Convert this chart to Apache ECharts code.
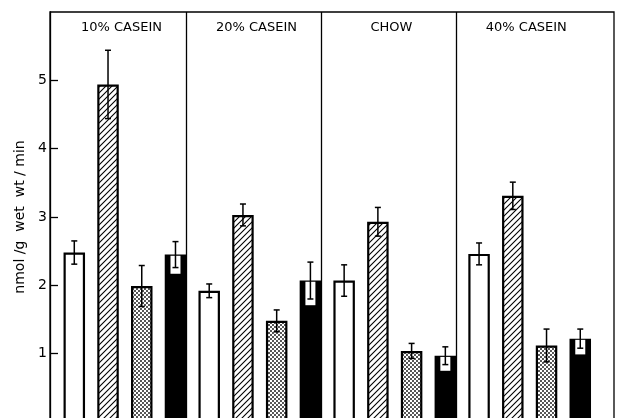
<!DOCTYPE html>
<html>
<head>
<meta charset="utf-8">
<script src="https://cdn.jsdelivr.net/npm/echarts@6/dist/echarts.min.js"></script>
<style>
  html, body { margin: 0; padding: 0; background: #fff; }
  #chart { width: 623px; height: 418px; }
</style>
</head>
<body>
<div id="chart"></div>
<script>
// Diet groups shown as panels across the top
const dietGroups = ['10% CASEIN', '20% CASEIN', 'CHOW', '40% CASEIN'];

// Four treatments per diet: open, hatched, stippled, solid bars (mean ± SE)
const openMeans      = [2.48, 1.92, 2.07, 2.46];
const openErrors     = [0.17, 0.10, 0.23, 0.16];
const hatchedMeans   = [4.94, 3.03, 2.93, 3.31];
const hatchedErrors  = [0.50, 0.16, 0.21, 0.20];
const stippledMeans  = [1.99, 1.48, 1.04, 1.12];
const stippledErrors = [0.30, 0.16, 0.11, 0.24];
const solidMeans     = [2.45, 2.07, 0.97, 1.22];
const solidErrors    = [0.19, 0.27, 0.13, 0.14];

// Y axis
const yMin = 0, yMax = 6, yStep = 1;
const yTitle = 'nmol /g  wet  wt / min';

// --- fill patterns -------------------------------------------------------
function hatchPattern() {
  const s = 6, c = document.createElement('canvas');
  c.width = s; c.height = s;
  const g = c.getContext('2d');
  g.fillStyle = '#fff'; g.fillRect(0, 0, s, s);
  g.strokeStyle = '#000'; g.lineWidth = 1.1;
  g.beginPath();
  g.moveTo(-1, s + 1); g.lineTo(s + 1, -1);
  g.moveTo(-1, 1); g.lineTo(1, -1);
  g.moveTo(s - 1, s + 1); g.lineTo(s + 1, s - 1);
  g.stroke();
  return c;
}
function stipplePattern() {
  const s = 4, c = document.createElement('canvas');
  c.width = s; c.height = s;
  const g = c.getContext('2d');
  g.fillStyle = '#fff'; g.fillRect(0, 0, s, s);
  g.fillStyle = '#111';
  [[1, 1], [3, 3]].forEach(([cx, cy]) => {
    g.beginPath(); g.arc(cx, cy, 0.95, 0, Math.PI * 2); g.fill();
  });
  return c;
}

const treatments = [
  { means: openMeans,     errors: openErrors,     fill: '#ffffff', solid: 0 },
  { means: hatchedMeans,  errors: hatchedErrors,  fill: { image: hatchPattern(), repeat: 'repeat' }, solid: 0 },
  { means: stippledMeans, errors: stippledErrors, fill: { image: stipplePattern(), repeat: 'repeat' }, solid: 0 },
  { means: solidMeans,    errors: solidErrors,    fill: '#000000', solid: 1 }
];
const perGroup = treatments.length;

// bar slot index (1-based) along the x axis
const barData = [];
const errData = [];
dietGroups.forEach((grp, g) => {
  treatments.forEach((t, i) => {
    const k = g * perGroup + i + 1;
    barData.push({
      value: [k, t.means[g]],
      itemStyle: { color: t.fill, borderColor: '#000', borderWidth: 2.2 }
    });
    errData.push([k, t.means[g], t.errors[g], t.solid]);
  });
});

// panel dividers sit at the right edge of each group's last bar
const dividerData = dietGroups.slice(0, -1).map((_, g) => ({ xAxis: (g + 1) * perGroup + 0.32 }));

// panel titles centred over each group's bars
const titleData = dietGroups.map((name, g) => [g * perGroup + (perGroup + 1) / 2 - 0.1, 5.77, g]);

function renderErrorBar(params, api) {
  const x = api.value(0), m = api.value(1), e = api.value(2), solid = api.value(3);
  const top = api.coord([x, m + e]);
  const bot = api.coord([x, m - e]);
  const mid = api.coord([x, m]);
  const cap = 3;
  const stroke = { stroke: '#000', lineWidth: 1.5 };
  const children = [];
  if (solid) {
    children.push({
      type: 'rect',
      shape: { x: mid[0] - 5, y: mid[1] + 1.2, width: 10, height: bot[1] - mid[1] + 5 },
      style: { fill: '#fff' }
    });
  }
  children.push(
    { type: 'line', shape: { x1: top[0], y1: top[1], x2: bot[0], y2: bot[1] }, style: stroke },
    { type: 'line', shape: { x1: top[0] - cap, y1: top[1], x2: top[0] + cap, y2: top[1] }, style: stroke },
    { type: 'line', shape: { x1: bot[0] - cap, y1: bot[1], x2: bot[0] + cap, y2: bot[1] }, style: stroke }
  );
  return { type: 'group', children: children };
}

function renderTitle(params, api) {
  const p = api.coord([api.value(0), api.value(1)]);
  return {
    type: 'text',
    x: p[0], y: p[1],
    style: {
      text: dietGroups[api.value(2)],
      fill: '#000',
      font: '13px "DejaVu Sans"',
      align: 'center',
      verticalAlign: 'middle'
    }
  };
}

const chart = echarts.init(document.getElementById('chart'), null, { renderer: 'canvas' });
chart.setOption({
  animation: false,
  backgroundColor: '#fff',
  textStyle: { fontFamily: 'DejaVu Sans' },
  grid: {
    left: 50, top: 12, width: 564, height: 410,
    outerBoundsMode: 'none',
    containLabel: false,
    show: true, borderColor: '#000', borderWidth: 1.3, backgroundColor: 'transparent'
  },
  xAxis: {
    type: 'value', min: 0.28, max: 17,
    show: false
  },
  yAxis: {
    type: 'value', min: yMin, max: yMax, interval: yStep,
    axisLine: { show: true, lineStyle: { color: '#000', width: 1.3 } },
    axisTick: { show: true, inside: true, length: 8, lineStyle: { color: '#000', width: 1.3 } },
    splitLine: { show: false },
    axisLabel: {
      color: '#000', fontSize: 14, margin: 3, fontFamily: 'DejaVu Sans',
      showMaxLabel: false, showMinLabel: false
    },
    name: yTitle,
    nameLocation: 'middle',
    nameGap: 22,
    nameTextStyle: { color: '#000', fontSize: 14, fontFamily: 'DejaVu Sans' }
  },
  series: [
    {
      type: 'bar',
      data: barData,
      barWidth: 21.5,
      z: 2,
      markLine: {
        silent: true,
        symbol: 'none',
        label: { show: false },
        lineStyle: { color: '#000', width: 1.3, type: 'solid' },
        data: dividerData
      }
    },
    {
      type: 'custom',
      data: errData,
      renderItem: renderErrorBar,
      z: 5
    },
    {
      type: 'custom',
      data: titleData,
      renderItem: renderTitle,
      z: 6
    }
  ]
});
</script>
</body>
</html>
